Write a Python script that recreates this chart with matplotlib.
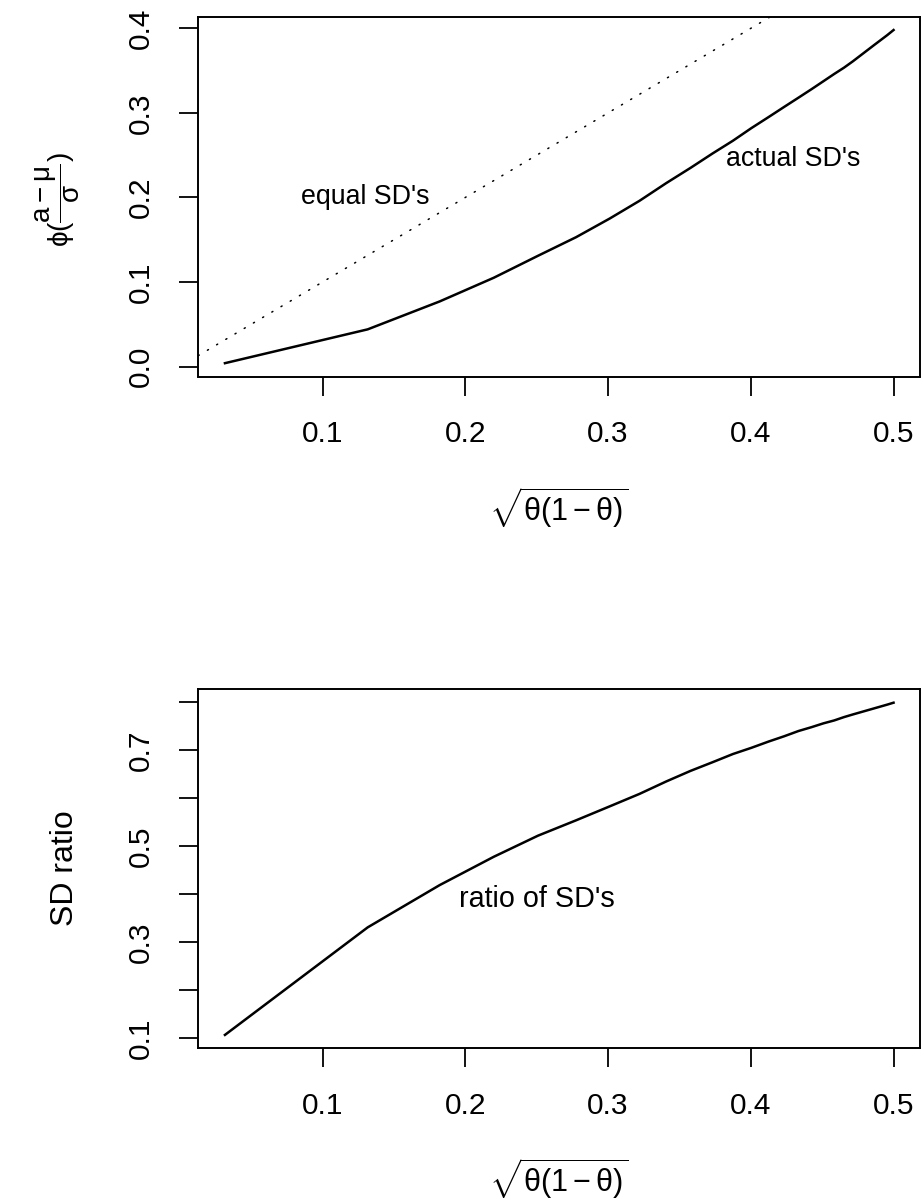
import matplotlib
matplotlib.use("Agg")
import matplotlib.pyplot as plt
import numpy as np

plt.rcParams['font.family'] = ['Liberation Sans', 'DejaVu Sans']
plt.rcParams['mathtext.fontset'] = 'custom'
plt.rcParams['mathtext.rm'] = 'Liberation Sans'
plt.rcParams['mathtext.it'] = 'Liberation Sans'
plt.rcParams['mathtext.sf'] = 'Liberation Sans'

# ---- data ----
sd_x = [0.0316, 0.1316, 0.1820, 0.2199, 0.2509, 0.2776, 0.3011, 0.3220,
        0.3408, 0.3578, 0.3732, 0.3874, 0.4004, 0.4124, 0.4233, 0.4334,
        0.4425, 0.4509, 0.4584, 0.4653, 0.4715, 0.4862, 0.4956, 0.5000]
actual_sd = [0.004, 0.044, 0.077, 0.105, 0.131, 0.153, 0.175, 0.196,
             0.217, 0.235, 0.252, 0.267, 0.282, 0.295, 0.307, 0.318,
             0.328, 0.3375, 0.346, 0.3535, 0.361, 0.380, 0.392, 0.398]
sd_ratio = [0.107, 0.331, 0.419, 0.478, 0.522, 0.554, 0.583, 0.609,
            0.635, 0.657, 0.675, 0.692, 0.705, 0.718, 0.729, 0.740,
            0.748, 0.756, 0.762, 0.769, 0.7745, 0.787, 0.795, 0.799]
equal_intercept = 0.0
equal_slope = 1.0

top_yticks = [0.0, 0.1, 0.2, 0.3, 0.4]
top_yticklabels = ["0.0", "0.1", "0.2", "0.3", "0.4"]
bot_yticks = [0.1, 0.2, 0.3, 0.4, 0.5, 0.6, 0.7, 0.8]
bot_yticklabels = ["0.1", "", "0.3", "", "0.5", "", "0.7", ""]
xticks = [0.1, 0.2, 0.3, 0.4, 0.5]
xticklabels = ["0.1", "0.2", "0.3", "0.4", "0.5"]

xlabel = r"$\sqrt{\theta(1-\theta)}$"
top_ylabel = r"$\phi(\dfrac{\mathrm{a}-\mu}{\sigma})$"
bot_ylabel = "SD ratio"

W, H = 921, 1204
fig = plt.figure(figsize=(W / 100, H / 100), dpi=100)


def rlim(v):
    lo, hi = min(v), max(v)
    d = (hi - lo) * 0.04
    return lo - d, hi + d


def style(ax, yticks, yticklabels):
    ax.set_xlim(*rlim(sd_x))
    ax.set_xticks(xticks)
    ax.set_xticklabels(xticklabels)
    ax.set_yticks(yticks)
    ax.set_yticklabels(yticklabels)
    for s in ax.spines.values():
        s.set_linewidth(1.4)
    ax.tick_params(axis='both', direction='out', length=13.5, width=1.3,
                   labelsize=21.5)
    ax.tick_params(axis='x', pad=18)
    ax.tick_params(axis='y', pad=18)
    for lab in ax.get_yticklabels():
        lab.set_rotation(90)
        lab.set_va('center')
        lab.set_ha('right')


# top panel
ax1 = fig.add_axes([198.2 / W, 1 - 376.5 / H, 722.1 / W, 359.8 / H])
ax1.plot(sd_x, actual_sd, color='black', lw=1.8)
ax1.axline((0, equal_intercept), slope=equal_slope, color='black', lw=1.1,
           linestyle=(0, (0.8, 6.2)), dash_capstyle='round')
ax1.set_ylim(*rlim(actual_sd))
style(ax1, top_yticks, top_yticklabels)
ax1.text(0.13, 0.2, "equal SD's", ha='center', va='center', fontsize=19.3)
ax1.text(0.43, 0.245, "actual SD's", ha='center', va='center', fontsize=19.3)

# bottom panel
ax2 = fig.add_axes([198.2 / W, 1 - 1048.2 / H, 722.1 / W, 358.8 / H])
ax2.plot(sd_x, sd_ratio, color='black', lw=1.8)
ax2.set_ylim(*rlim(sd_ratio))
style(ax2, bot_yticks, bot_yticklabels)
ax2.text(0.25, 0.39, "ratio of SD's", ha='center', va='center', fontsize=20.7)

# axis titles
fig.text(559 / W, 1 - 508 / H, xlabel, ha='center', va='center', fontsize=22)
fig.text(559 / W, 1 - 1179 / H, xlabel, ha='center', va='center', fontsize=22)
fig.text(58 / W, 1 - 200 / H, top_ylabel, ha='center', va='center',
         rotation=90, fontsize=20)
fig.text(65 / W, 1 - 868 / H, bot_ylabel, ha='center', va='center',
         rotation=90, fontsize=23)

fig.savefig("out.png", dpi=100)
